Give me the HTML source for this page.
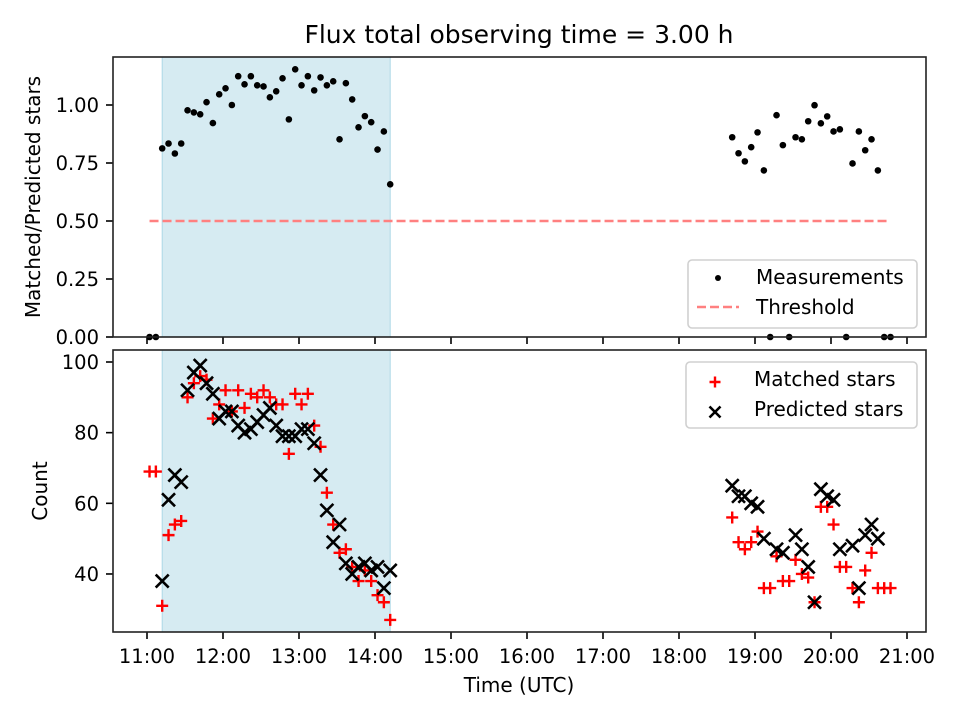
<!DOCTYPE html>
<html><head><meta charset="utf-8"><style>
body{margin:0;background:#fff}
svg{display:block;font-family:"DejaVu Sans","Liberation Sans",sans-serif}
</style></head><body>
<svg id="chart" width="960" height="720" viewBox="0 0 960 720" xmlns="http://www.w3.org/2000/svg">
<rect width="960" height="720" fill="#fff"/>
<text x="519" y="43" font-size="25" text-anchor="middle">Flux total observing time = 3.00 h</text>
<g id="topPanel"></g>
<g id="botPanel"></g>
<text x="519" y="692" font-size="20" text-anchor="middle">Time (UTC)</text>
<text transform="translate(40,197) rotate(-90)" font-size="20" text-anchor="middle">Matched/Predicted stars</text>
<text transform="translate(47,491) rotate(-90)" font-size="20" text-anchor="middle">Count</text>
</svg>
<script>
// times in minutes since midnight
const timesA = [662,667,672,677,682,687,692,697,702,707,712,717,722,727,732,737,742,747,752,757,762,767,772,777,782,787,792,797,802,807,812,817,822,827,832,837,842,847,852];
const ratioA = [0,0,0.813,0.834,0.791,0.834,0.977,0.968,0.960,1.012,0.922,1.046,1.072,1.000,1.124,1.089,1.124,1.085,1.080,1.033,1.059,1.115,0.938,1.154,1.085,1.124,1.063,1.119,1.085,1.102,0.852,1.094,1.024,0.904,0.952,0.926,0.808,0.886,0.658];
const matchedA = [69,69,31,51,54,55,90,94,96,95,84,88,92,86,92,87,91,90,92,90,88,88,74,91,88,91,82,76,63,54,46,47,42,38,41,38,34,32,27];
const predictedA = [null,null,38,61,68,66,92,97,99,94,91,84,86,86,82,80,81,83,85,87,82,79,79,79,81,81,77,68,58,49,54,43,40,42,43,41,42,36,41];
const timesB = [1122,1127,1132,1137,1142,1147,1152,1157,1162,1167,1172,1177,1182,1187,1192,1197,1202,1207,1212,1217,1222,1227,1232,1237,1242,1247];
const ratioB = [0.861,0.792,0.757,0.818,0.882,0.718,0,0.956,0.827,0,0.861,0.852,0.930,0.999,0.921,0.951,0.886,0.895,0,0.748,0.886,0.805,0.852,0.718,0,0];
const matchedB = [56,49,47,49,52,36,36,45,38,38,44,40,39,32,59,59,54,42,42,36,32,41,46,36,36,36];
const predictedB = [65,62,62,60,59,50,null,47,46,null,51,47,42,32,64,62,61,47,null,48,36,51,54,50,null,null];
const xTicks = ["11:00","12:00","13:00","14:00","15:00","16:00","17:00","18:00","19:00","20:00","21:00"];
const ratioTicks = [0,0.25,0.5,0.75,1.0];
const countTicks = [40,60,80,100];
const shadeStart = 672, shadeEnd = 852;
const threshold = 0.5, thrStart = 662, thrEnd = 1247;

const NS = "http://www.w3.org/2000/svg";
const X = m => 147 + (m - 660) / 60 * 76;
const YT = v => 337 - v * 232;
const YB = v => 362 + (100 - v) * 3.533;
function mk(p, tag, at) { const e = document.createElementNS(NS, tag); for (const k in at) e.setAttribute(k, at[k]); p.appendChild(e); return e; }
const topG = document.getElementById('topPanel'), botG = document.getElementById('botPanel');
const L = 113, R = 926;
const panels = [[topG, 57, 337], [botG, 350, 632]];
panels.forEach(([g, t, b], pi) => {
  const s = mk(g, 'rect', {x: X(shadeStart), y: t, width: X(shadeEnd) - X(shadeStart), height: b - t, fill: '#add8e6', 'fill-opacity': 0.5, stroke: '#add8e6', 'stroke-width': 1});
  
  
  xTicks.forEach((lab, i) => {
    const x = X(660 + i * 60);
    const tk = mk(g, 'line', {x1: x, x2: x, y1: b, y2: b + 7, stroke: '#000', 'stroke-width': 1.6});
    
    
    if (pi === 1) {
      const tx = mk(g, 'text', {x: x, y: b + 31, 'font-size': 19.5, 'text-anchor': 'middle'});
      tx.textContent = lab;
      
      
    }
  });
});
ratioTicks.forEach(v => {
  const y = YT(v);
  const tk = mk(topG, 'line', {x1: L - 7, x2: L, y1: y, y2: y, stroke: '#000', 'stroke-width': 1.6});
  
  
  const tx = mk(topG, 'text', {x: L - 14, y: y + 7, 'font-size': 19.5, 'text-anchor': 'end'});
  tx.textContent = v.toFixed(2);
  
  
});
countTicks.forEach(v => {
  const y = YB(v);
  const tk = mk(botG, 'line', {x1: L - 7, x2: L, y1: y, y2: y, stroke: '#000', 'stroke-width': 1.6});
  
  
  const tx = mk(botG, 'text', {x: L - 14, y: y + 7, 'font-size': 19.5, 'text-anchor': 'end'});
  tx.textContent = v;
  
  
});
const th = mk(topG, 'line', {x1: X(thrStart), x2: X(thrEnd), y1: YT(threshold), y2: YT(threshold), stroke: '#ff8080', 'stroke-width': 2.5, 'stroke-dasharray': '9,4'});


function dots(times, vals) {
  times.forEach((t, i) => {
    const c = mk(topG, 'circle', {cx: X(t), cy: YT(vals[i]), r: 3.3, fill: '#000'});
    
    
  });
}
dots(timesA, ratioA); dots(timesB, ratioB);
function plus(times, vals) {
  times.forEach((t, i) => {
    if (vals[i] == null) return;
    const x = X(t), y = YB(vals[i]);
    const p = mk(botG, 'path', {d: `M${x-6},${y}H${x+6}M${x},${y-6}V${y+6}`, stroke: '#f00', 'stroke-width': 2.4, fill: 'none'});
    
    
  });
}
function cross(times, vals) {
  times.forEach((t, i) => {
    if (vals[i] == null) return;
    const x = X(t), y = YB(vals[i]);
    const p = mk(botG, 'path', {d: `M${x-6.5},${y-6.5}L${x+6.5},${y+6.5}M${x-6.5},${y+6.5}L${x+6.5},${y-6.5}`, stroke: '#000', 'stroke-width': 2.6, fill: 'none'});
    
    
  });
}
plus(timesA, matchedA); plus(timesB, matchedB);
cross(timesA, predictedA); cross(timesB, predictedB);
panels.forEach(([g, t, b]) => {
  const f = mk(g, 'rect', {x: L, y: t, width: R - L, height: b - t, fill: 'none', stroke: '#222', 'stroke-width': 1.6});
  
  
});
function legend(g, x, y, w, h, items) {
  const lg = mk(g, 'g', {});
  
  
  mk(lg, 'rect', {x: x, y: y, width: w, height: h, rx: 4, fill: '#fff', 'fill-opacity': 0.8, stroke: '#d0d0d0', 'stroke-width': 1.6});
  items.forEach(it => {
    const e = mk(lg, 'g', {});
    
    
    const mx = it.mx, cy = it.my;
    if (it.k === 'dot') mk(e, 'circle', {cx: mx, cy: cy, r: 3, fill: '#000'});
    if (it.k === 'dash') mk(e, 'line', {x1: mx - 21, x2: mx + 21, y1: cy, y2: cy, stroke: '#ff8080', 'stroke-width': 2.5, 'stroke-dasharray': '9,4'});
    if (it.k === 'plus') mk(e, 'path', {d: `M${mx-5.5},${cy}H${mx+5.5}M${mx},${cy-5.5}V${cy+5.5}`, stroke: '#f00', 'stroke-width': 2.4});
    if (it.k === 'x') mk(e, 'path', {d: `M${mx-5.5},${cy-5.5}L${mx+5.5},${cy+5.5}M${mx-5.5},${cy+5.5}L${mx+5.5},${cy-5.5}`, stroke: '#000', 'stroke-width': 2.6});
    const tx = mk(e, 'text', {x: it.tx, y: it.ty, 'font-size': 20});
    tx.textContent = it.t;
  });
}
legend(topG, 688, 260, 229, 68, [
  {k: 'dot', t: 'Measurements', mx: 718, my: 278, tx: 756, ty: 284},
  {k: 'dash', t: 'Threshold', mx: 718, my: 307, tx: 756, ty: 314}]);
legend(botG, 686, 362, 231, 66, [
  {k: 'plus', t: 'Matched stars', mx: 715, my: 382, tx: 754, ty: 386},
  {k: 'x', t: 'Predicted stars', mx: 715, my: 412, tx: 754, ty: 416}]);
</script>
</body></html>
